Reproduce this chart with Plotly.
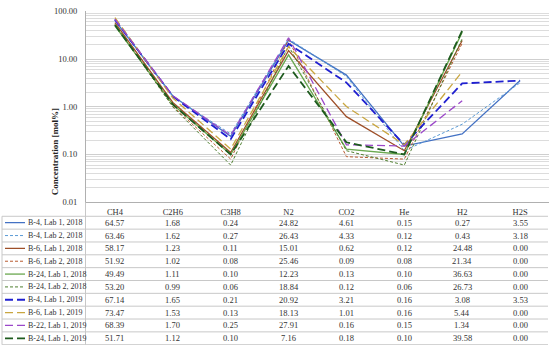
import plotly.graph_objects as go

categories = ["CH4", "C2H6", "C3H8", "N2", "CO2", "He", "H2", "H2S"]
y_tick_vals = [0.01, 0.1, 1, 10, 100]
y_tick_text = ["0.01", "0.10", "1.00", "10.00", "100.00"]

series_names = [
    "B-4, Lab 1, 2018", "B-4, Lab 2, 2018", "B-6, Lab 1, 2018", "B-6, Lab 2, 2018",
    "B-24, Lab 1, 2018", "B-24, Lab 2, 2018", "B-4, Lab 1, 2019", "B-6, Lab 1, 2019",
    "B-22, Lab 1, 2019", "B-24, Lab 1, 2019",
]
b4_lab1_2018 = [64.57, 1.68, 0.24, 24.82, 4.61, 0.15, 0.27, 3.55]
b4_lab2_2018 = [63.46, 1.62, 0.27, 26.43, 4.33, 0.12, 0.43, 3.18]
b6_lab1_2018 = [58.17, 1.23, 0.11, 15.01, 0.62, 0.12, 24.48, 0.00]
b6_lab2_2018 = [51.92, 1.02, 0.08, 25.46, 0.09, 0.08, 21.34, 0.00]
b24_lab1_2018 = [49.49, 1.11, 0.10, 12.23, 0.13, 0.10, 36.63, 0.00]
b24_lab2_2018 = [53.20, 0.99, 0.06, 18.84, 0.12, 0.06, 26.73, 0.00]
b4_lab1_2019 = [67.14, 1.65, 0.21, 20.92, 3.21, 0.16, 3.08, 3.53]
b6_lab1_2019 = [73.47, 1.53, 0.13, 18.13, 1.01, 0.16, 5.44, 0.00]
b22_lab1_2019 = [68.39, 1.70, 0.25, 27.91, 0.16, 0.15, 1.34, 0.00]
b24_lab1_2019 = [51.71, 1.12, 0.10, 7.16, 0.18, 0.10, 39.58, 0.00]

series_values = [b4_lab1_2018, b4_lab2_2018, b6_lab1_2018, b6_lab2_2018, b24_lab1_2018,
                 b24_lab2_2018, b4_lab1_2019, b6_lab1_2019, b22_lab1_2019, b24_lab1_2019]

styles = [
    dict(color="#4472C4", dash="solid", width=1.3),
    dict(color="#5B9BD5", dash="3px,2px", width=1.0),
    dict(color="#9E4F28", dash="solid", width=1.3),
    dict(color="#B85A30", dash="3px,2px", width=1.0),
    dict(color="#6AA84F", dash="solid", width=1.3),
    dict(color="#4F7F30", dash="3px,2px", width=1.0),
    dict(color="#2020D0", dash="8px,4px", width=1.8),
    dict(color="#C9A640", dash="8px,4px", width=1.3),
    dict(color="#9B47C9", dash="8px,4px", width=1.3),
    dict(color="#1E5B1E", dash="8px,4px", width=1.8),
]

FONT = "Liberation Serif, DejaVu Serif, serif"
W, H = 550, 350
plot_left, plot_right = 86, 549
plot_top, plot_bottom = 6.5, 203
header_bottom = 217.5
row_h = 13.22

fig = go.Figure()
for name, vals, st in zip(series_names, series_values, styles):
    yv = [v if v > 0 else None for v in vals]
    fig.add_trace(go.Scatter(x=categories, y=yv, mode="lines", name=name,
                             line=st, showlegend=False, connectgaps=False,
                             xaxis="x", yaxis="y"))

col_w = (plot_right - plot_left) / len(categories)
annotations = []
shapes = []
for i, (name, vals, st) in enumerate(zip(series_names, series_values, styles)):
    yc = header_bottom + row_h * (i + 0.5)
    fig.add_trace(go.Scatter(x=[5, 25], y=[yc, yc], mode="lines", line=st,
                             showlegend=False, xaxis="x2", yaxis="y2", hoverinfo="skip"))
    annotations.append(dict(x=25.5, y=yc, xref="x2", yref="y2", text=name, showarrow=False,
                            xanchor="left", yanchor="middle",
                            font=dict(family=FONT, size=8, color="#333")))
    for j, v in enumerate(vals):
        annotations.append(dict(x=plot_left + col_w * (j + 0.5), y=yc, xref="x2", yref="y2",
                                text=f"{v:.2f}", showarrow=False, xanchor="center",
                                yanchor="middle", font=dict(family=FONT, size=8.5, color="#333")))

line_c = "#c8c8c8"
for k in range(len(series_names) + 1):
    yl = header_bottom + row_h * k
    shapes.append(dict(type="line", xref="x2", yref="y2", x0=2, x1=plot_right - 1, y0=yl, y1=yl,
                       line=dict(color=line_c, width=1)))
shapes.append(dict(type="line", xref="x2", yref="y2", x0=2, x1=2, y0=header_bottom,
                   y1=header_bottom + row_h * 10, line=dict(color=line_c, width=1)))
shapes.append(dict(type="line", xref="x2", yref="y2", x0=plot_left - 0.5, x1=plot_left - 0.5,
                   y0=plot_bottom, y1=header_bottom + row_h * 10, line=dict(color=line_c, width=1)))

annotations.append(dict(x=48 / W, y=1 - (plot_top + plot_bottom) / 2 / H, xref="paper", yref="paper",
                        text="<b>Concentration [mol%]</b>", textangle=-90, showarrow=False,
                        font=dict(family=FONT, size=9, color="#222")))

minor_vals = [m * 10 ** e for e in range(-2, 2) for m in range(2, 10)]

fig.update_layout(
    width=W, height=H, margin=dict(l=0, r=0, t=0, b=0),
    paper_bgcolor="white", plot_bgcolor="white",
    font=dict(family=FONT, size=9, color="#333"),
    showlegend=False,
    xaxis=dict(domain=[plot_left / W, plot_right / W], type="category",
               categoryorder="array", categoryarray=categories,
               range=[-0.5, len(categories) - 0.5], showgrid=False,
               showline=True, linecolor="#b0b0b0", linewidth=1, ticks="",
               tickfont=dict(family=FONT, size=8.5, color="#333"), ticklabelstandoff=2,
               zeroline=False, anchor="y"),
    yaxis=dict(domain=[1 - plot_bottom / H, 1 - plot_top / H], type="log", range=[-2, 2],
               tickmode="array", tickvals=y_tick_vals, ticktext=y_tick_text,
               showgrid=True, gridcolor="#cfcfcf", gridwidth=1,
               minor=dict(tickmode="array", tickvals=minor_vals, showgrid=True,
                          gridcolor="#dcdcdc", gridwidth=1, ticks=""),
               showline=True, linecolor="#b0b0b0", linewidth=1, ticks="",
               ticklabelstandoff=6, tickfont=dict(family=FONT, size=8.5, color="#333"),
               zeroline=False, anchor="x"),
    xaxis2=dict(domain=[0, 1], range=[0, W], visible=False, fixedrange=True, anchor="y2"),
    yaxis2=dict(domain=[0, 1 - plot_bottom / H], range=[H, plot_bottom], visible=False,
                fixedrange=True, anchor="x2"),
    annotations=annotations, shapes=shapes,
)

fig.write_html("out.html", config={"displayModeBar": False},
               post_script="document.body.style.margin='0px';document.body.style.overflow='hidden';")
